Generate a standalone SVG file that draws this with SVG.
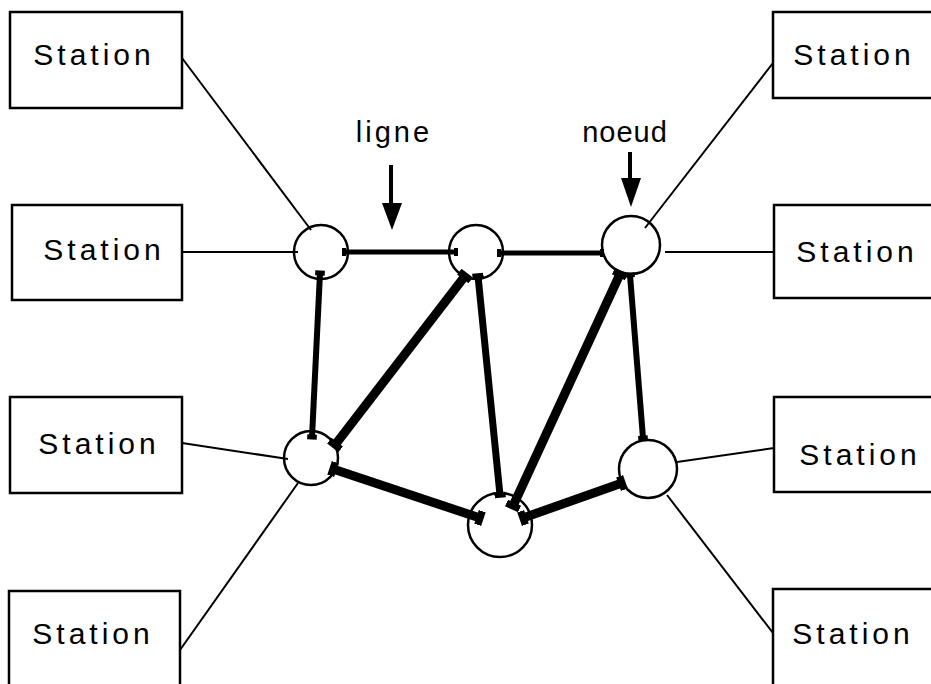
<svg xmlns="http://www.w3.org/2000/svg" width="931" height="684" viewBox="0 0 931 684">
<style>
.box{fill:#fff;stroke:#000;stroke-width:2.5}
.lbl{font-family:"Liberation Sans",Arial,sans-serif;font-size:30px;letter-spacing:4px;fill:#000;text-anchor:middle}
.cap{font-family:"Liberation Sans",Arial,sans-serif;font-size:29px;letter-spacing:2px;fill:#000;text-anchor:middle}
.node{fill:#fff;stroke:#000;stroke-width:2.5}
.thin{stroke:#000;stroke-width:2;fill:none}
.thick{stroke:#000;fill:none;stroke-linecap:butt}
</style>
<defs>
<marker id="stub" markerUnits="strokeWidth" viewBox="-1 -1 2 2" refX="0" refY="0" markerWidth="1.6" markerHeight="1.6" orient="auto">
<rect x="-0.5" y="-1" width="1" height="2" fill="#000"/>
</marker>
</defs>
<rect width="931" height="684" fill="#fff"/>
<g id="n1"><circle class="node" cx="321" cy="252" r="27"/></g>
<g id="n2"><circle class="node" cx="476" cy="252" r="27"/></g>
<g id="n3"><circle class="node" cx="631" cy="245" r="29"/></g>
<g id="n4"><circle class="node" cx="311" cy="458" r="27"/></g>
<g id="n5"><circle class="node" cx="500" cy="525" r="32"/></g>
<g id="n6"><circle class="node" cx="648" cy="469" r="29"/></g>
<g id="connectors">
<line class="thin" x1="182" y1="58" x2="311" y2="230"/>
<line class="thin" x1="182" y1="252" x2="298" y2="252"/>
<line class="thin" x1="182" y1="443" x2="288" y2="459"/>
<line class="thin" x1="180" y1="650" x2="298" y2="483"/>
<line class="thin" x1="773" y1="63" x2="645" y2="228"/>
<line class="thin" x1="774" y1="252" x2="665" y2="252"/>
<line class="thin" x1="774" y1="448" x2="677" y2="462"/>
<line class="thin" x1="773" y1="633" x2="667" y2="495"/>
<g class="thick" marker-start="url(#stub)" marker-end="url(#stub)">
<line x1="344" y1="252" x2="456" y2="252" stroke-width="5"/>
<line x1="499" y1="253" x2="602" y2="253" stroke-width="5"/>
<line x1="320" y1="273" x2="312" y2="437" stroke-width="6"/>
<line x1="465" y1="276" x2="335" y2="445" stroke-width="9"/>
<line x1="478" y1="276" x2="500" y2="495" stroke-width="7"/>
<line x1="620" y1="274" x2="513" y2="506" stroke-width="9"/>
<line x1="630" y1="275" x2="643" y2="438" stroke-width="6"/>
<line x1="333" y1="469" x2="480" y2="518" stroke-width="9"/>
<line x1="622" y1="483" x2="523" y2="518" stroke-width="9"/>
</g>
<line stroke="#000" stroke-width="4" x1="391" y1="165" x2="391" y2="204"/>
<path d="M382,203 L402,203 L392,230 Z" fill="#000"/>
<line stroke="#000" stroke-width="4" x1="630" y1="152" x2="630" y2="179"/>
<path d="M621,178 L641,178 L631,207 Z" fill="#000"/>
</g>
<g id="s1"><rect class="box" x="10" y="12" width="172" height="96"/><text class="lbl" x="94" y="65">Station</text></g>
<g id="s2"><rect class="box" x="12" y="205" width="170" height="95"/><text class="lbl" x="104" y="260">Station</text></g>
<g id="s3"><rect class="box" x="10" y="397" width="172" height="96"/><text class="lbl" x="99" y="454">Station</text></g>
<g id="s4"><rect class="box" x="9" y="591" width="171" height="110"/><text class="lbl" x="93" y="644">Station</text></g>
<g id="s5"><rect class="box" x="773" y="12" width="170" height="86"/><text class="lbl" x="854" y="65">Station</text></g>
<g id="s6"><rect class="box" x="774" y="205" width="170" height="93"/><text class="lbl" x="857" y="262">Station</text></g>
<g id="s7"><rect class="box" x="774" y="397" width="170" height="95"/><text class="lbl" x="860" y="465">Station</text></g>
<g id="s8"><rect class="box" x="773" y="589" width="170" height="110"/><text class="lbl" x="853" y="644">Station</text></g>
<g id="lab-ligne"><text class="cap" x="394" y="142" style="letter-spacing:3px">ligne</text></g>
<g id="lab-noeud"><text class="cap" x="625" y="142" style="letter-spacing:1px">noeud</text></g>
</svg>
